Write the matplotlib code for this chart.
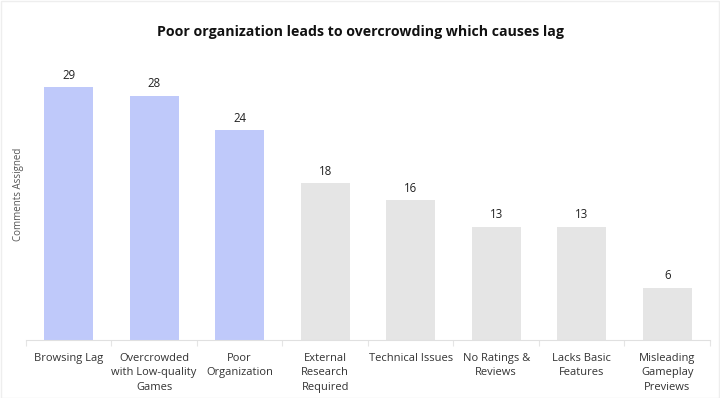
import matplotlib
matplotlib.use("Agg")
import matplotlib.pyplot as plt
import numpy as np

plt.rcParams['font.family'] = ['Open Sans', 'DejaVu Sans']

categories = ["Browsing Lag", "Overcrowded\nwith Low-quality\nGames", "Poor\nOrganization",
              "External\nResearch\nRequired", "Technical Issues", "No Ratings &\nReviews",
              "Lacks Basic\nFeatures", "Misleading\nGameplay\nPreviews"]
values = [29, 28, 24, 18, 16, 13, 13, 6]
highlight = [True, True, True, False, False, False, False, False]

blue = "#BFC9FA"
grey = "#E5E5E5"

fig = plt.figure(figsize=(7.2, 3.98), dpi=100)
ax = fig.add_axes([0.036, 0.1457, 0.95, 0.68])
x = np.arange(len(categories))
colors = [blue if h else grey for h in highlight]
ax.bar(x, values, width=0.57, color=colors)
for xi, v in zip(x, values):
    ax.text(xi, v + 0.6, str(v), ha='center', va='bottom', fontsize=8.3, color='#222222')

ax.set_xlim(-0.5, len(categories) - 0.5)
ax.set_ylim(0, 31)
ax.set_yticks([])
ax.set_xticks(x)
ax.set_xticklabels(categories, fontsize=8, color='#333333', linespacing=1.45)
ax.tick_params(axis='x', length=0, pad=9)
# minor ticks between categories
ax.set_xticks(np.arange(-0.5, len(categories), 1), minor=True)
ax.tick_params(axis='x', which='minor', length=4, color='#E5E5E5', width=0.8)
for s in ['top', 'right', 'left']:
    ax.spines[s].set_visible(False)
ax.spines['bottom'].set_color('#E0E0E0')
ax.spines['bottom'].set_linewidth(0.8)

ax.set_ylabel("Comments Assigned", fontsize=7, color='#555555')
ax.yaxis.set_label_coords(-0.003, 0.54)
fig.text(0.5, 0.92, "Poor organization leads to overcrowding which causes lag",
         ha='center', va='center', fontsize=10.2, fontweight='bold', color='#111111')

fig.patches.append(plt.Rectangle((0.001, 0.001), 0.998, 0.997, transform=fig.transFigure,
                                 fill=False, edgecolor='#EEEEEE', linewidth=1))
fig.savefig("out.png", dpi=100)
